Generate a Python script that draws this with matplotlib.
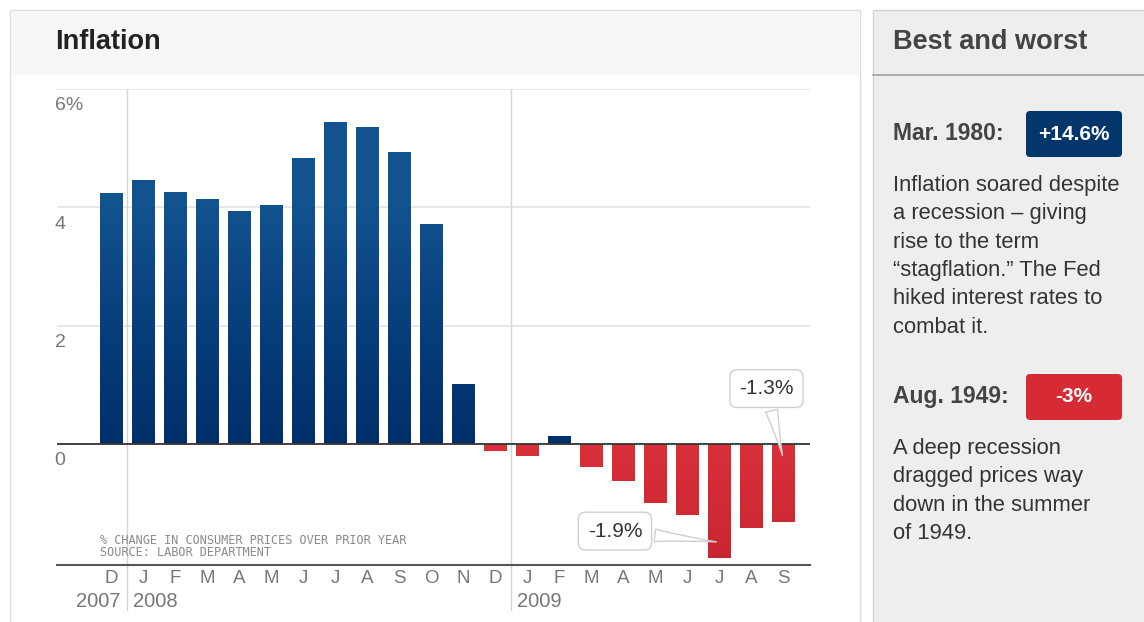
import numpy as np
import matplotlib.pyplot as plt
from matplotlib.colors import LinearSegmentedColormap
from matplotlib.patches import Rectangle, FancyBboxPatch

# monthly % change in consumer prices over prior year, Dec 2007 - Sep 2009
months = ['D', 'J', 'F', 'M', 'A', 'M', 'J', 'J', 'A', 'S', 'O', 'N',
          'D', 'J', 'F', 'M', 'A', 'M', 'J', 'J', 'A', 'S']
values = [4.24, 4.46, 4.26, 4.14, 3.94, 4.04, 4.84, 5.44, 5.35, 4.93, 3.72, 1.02,
          -0.12, -0.21, 0.14, -0.39, -0.63, -1.0, -1.2, -1.93, -1.42, -1.32]
years = ['2007', '2008', '2009']
year_first = [0, 1, 13]
yticks = [0, 2, 4, 6]
ytick_labels = ['0', '2', '4', '6%']
callout_idx = [21, 19]
callout_txt = ['-1.3%', '-1.9%']
note_lines = ['% CHANGE IN CONSUMER PRICES OVER PRIOR YEAR',
              'SOURCE: LABOR DEPARTMENT']

best_date, best_val = 'Mar. 1980:', '+14.6%'
best_text = ('Inflation soared despite\na recession \u2013 giving\nrise to the term\n'
             '\u201cstagflation.\u201d The Fed\nhiked interest rates to\ncombat it.')
worst_date, worst_val = 'Aug. 1949:', '-3%'
worst_text = 'A deep recession\ndragged prices way\ndown in the summer\nof 1949.'

W, H = 1144, 622
plt.rcParams['font.family'] = ['Liberation Sans', 'DejaVu Sans']
fig = plt.figure(figsize=(W / 100, H / 100), dpi=100)
fig.patch.set_facecolor('white')

# page layer in pixel coordinates
bg = fig.add_axes([0, 0, 1, 1])
bg.set_xlim(0, W)
bg.set_ylim(H, 0)
bg.axis('off')
bg.add_patch(Rectangle((10, 10), 850, 640, fc='white', ec='#dddddd', lw=1))
bg.add_patch(Rectangle((11, 11), 848, 64, fc='#f6f6f6', ec='none'))
# soft shading at the left of each year block
shade = LinearSegmentedColormap.from_list('s', ['#ececec', '#ffffff'])
hgrad = np.linspace(0, 1, 128).reshape(1, -1)
for x0, w in [(57, 70), (513, 50)]:
    bg.imshow(hgrad, extent=[x0, x0 + w, 565, 89], cmap=shade, aspect='auto', zorder=0.5)
bg.set_xlim(0, W)
bg.set_ylim(H, 0)

bg.add_patch(Rectangle((873, 10), 290, 640, fc='#eeeeee', ec='#d2d2d2', lw=1))
bg.plot([873, W], [75, 75], color='#a0a0a0', lw=1.2)
bg.text(55, 42, 'Inflation', fontsize=19.5, fontweight='bold', color='#222222', va='center')
bg.text(893, 42, 'Best and worst', fontsize=19.5, fontweight='bold', color='#444444', va='center')

# best / worst side panel
for yb, date, val, txt, col in [(134, best_date, best_val, best_text, '#03366b'),
                                (397, worst_date, worst_val, worst_text, '#d62b34')]:
    bg.text(893, yb, date, fontsize=16.5, fontweight='bold', color='#444444', va='center')
    bg.add_patch(FancyBboxPatch((1029, yb - 20), 90, 40, boxstyle='round,pad=3,rounding_size=4',
                                fc=col, ec='none'))
    bg.text(1074, yb, val, fontsize=15, fontweight='bold', color='white', va='center', ha='center')
    bg.text(893, yb + 41, txt, fontsize=15.8, color='#333333', va='top', linespacing=1.46)

# chart
ax = fig.add_axes([57 / W, 1 - 565 / H, (810 - 57) / W, (565 - 89) / H])
ax.set_facecolor('none')
for s in ['top', 'right', 'left']:
    ax.spines[s].set_visible(False)
ax.spines['bottom'].set_color('#555555')
ax.spines['bottom'].set_linewidth(1.5)
ax.set_xticks([])
ax.set_yticks([])

for t, lab in zip(yticks, ytick_labels):
    if t != 0:
        ax.axhline(t, color='#e3e3e3', lw=1.2, zorder=1)
    ax.annotate(lab, xy=(-0.003, t), xycoords=('axes fraction', 'data'), xytext=(0, -6),
                textcoords='offset points', va='top', ha='left', fontsize=14, color='#777777')
ax.axhline(0, color='#333333', lw=1.3, zorder=4)

for k in [1, 2]:
    ax.axvline(year_first[k] - 0.5, ymin=-(610 - 565) / 476, ymax=1, color='#d4d4d4',
               lw=1, clip_on=False, zorder=1)

x = np.arange(len(values))
bars = ax.bar(x, values, width=0.69, zorder=3,
              color=['#0b4a86' if v >= 0 else '#d62b34' for v in values])
blue = LinearSegmentedColormap.from_list('b', ['#00306a', '#063f7a', '#11538f', '#11548f'])
red = LinearSegmentedColormap.from_list('r', ['#d93039', '#c9252f'])
grad = np.linspace(0, 1, 256).reshape(-1, 1)
for b, v in zip(bars, values):
    x0 = b.get_x()
    if v >= 0:
        im = ax.imshow(grad, extent=[x0, x0 + b.get_width(), 0, 6], origin='lower',
                       cmap=blue, aspect='auto', zorder=3)
    else:
        im = ax.imshow(grad[::-1], extent=[x0, x0 + b.get_width(), -2.045, 0], origin='lower',
                       cmap=red, aspect='auto', zorder=3)
    im.set_clip_path(b)
ax.set_xlim(-1.69, 21.84)
ax.set_ylim(-2.045, 6)

for i, m in enumerate(months):
    ax.annotate(m, xy=(i, 0), xycoords=('data', 'axes fraction'), xytext=(0, -9.5),
                textcoords='offset points', va='center', ha='center', fontsize=13.5, color='#777777')
for k, yr in enumerate(years):
    if k == 0:
        xx, off, ha = year_first[1] - 0.5, -5, 'right'
    else:
        xx, off, ha = year_first[k] - 0.5, 4, 'left'
    ax.annotate(yr, xy=(xx, 0), xycoords=('data', 'axes fraction'), xytext=(off, -26),
                textcoords='offset points', va='center', ha=ha, fontsize=14.5, color='#777777')

for j, line in enumerate(note_lines):
    ax.text(0.057, 0.052 - j * 0.026, line, transform=ax.transAxes, fontsize=8.6,
            family='DejaVu Sans Mono', color='#8a8a8a', va='center', zorder=5)

offsets = [(-12, 50), (-75, 8)]
tips = [0.18, 0.86]
for idx, txt, off, tf in zip(callout_idx, callout_txt, offsets, tips):
    ax.annotate(txt, xy=(idx, values[idx] * tf), xytext=off, textcoords='offset points',
                ha='center', va='center', fontsize=15, color='#333333', zorder=6,
                bbox=dict(boxstyle='round,pad=0.45,rounding_size=0.35', fc='white', ec='#cfcfcf', lw=1),
                arrowprops=dict(arrowstyle='wedge,tail_width=0.6,shrink_factor=0.4',
                                fc='white', ec='#cfcfcf', lw=1))

fig.savefig('out.png', dpi=100)
